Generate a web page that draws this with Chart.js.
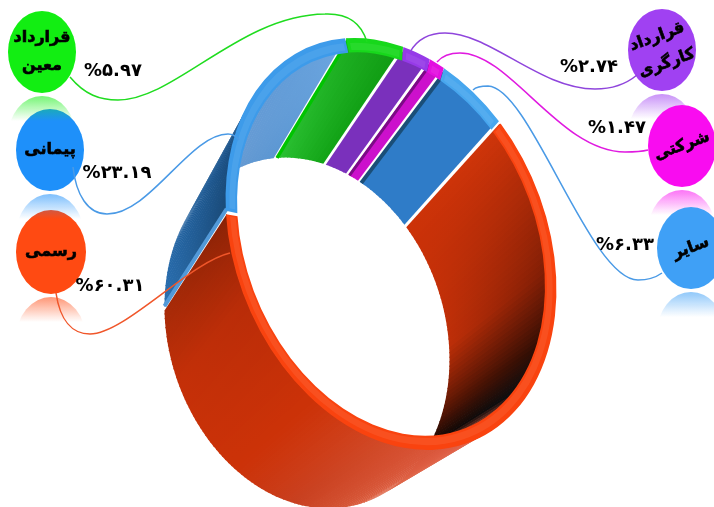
<!DOCTYPE html>
<html>
<head>
<meta charset="utf-8">
<style>
  html, body { margin: 0; padding: 0; background: #fff; }
  canvas { display: block; }
</style>
</head>
<body>
<canvas id="myChart" width="714" height="507"></canvas>
<script src="https://cdn.jsdelivr.net/npm/chart.js@4"></script>
<script>
// Data
const categories = ["رسمی", "پیمانی", "قرارداد معین", "قرارداد کارگری", "شرکتی", "سایر"];
const shares = [60.31, 23.19, 5.97, 2.74, 1.47, 6.33];
const rim_colors = ["#f9430f", "#3d9bea", "#17d81b", "#963ae8", "#e30fe0", "#47a6ee"];
const bubble_colors = ["#ff4a12", "#1e90fa", "#12ee12", "#a041f2", "#f90cf0", "#3fa0f6"];
const leader_colors = ["#f0562a", "#4a9ae6", "#1fdc1f", "#8f45dc", "#e01ae0", "#4a9ae6"];

// Ring geometry: near face, far face, perspective warp of the angles
const near_face = { x: 391, y: 244, ax: 163, ay: 18, bx: 22, by: 204 };
const far_face = { x: 307, y: 333, ax: 142, ay: 12, bx: 12, by: 175 };
const deg = Math.PI / 180;
const warp_k = 0.04;
const warp_center = 60 * deg;

// Wall shading per slice: [fraction along slice, color at near face, color at far face]
const wall_stops = [
  [
    [0, "#d0350a", "#cc3208"],
    [0.184, "#7a1c05", "#bc2e08"],
    [0.282, "#2a0c04", "#5a1604"],
    [0.344, "#0c1114", "#120603"],
    [0.388, "#d85a40", "#dd6040"],
    [0.495, "#e06048", "#dd6040"],
    [0.628, "#d24a28", "#c84020"],
    [0.739, "#cc3208", "#cc3208"],
    [0.894, "#b82c08", "#c43008"],
    [1, "#8a2206", "#a82a08"]
  ],
  [
    [0, "#1a4a78", "#2c72b4"],
    [0.42, "#1b5288", "#1f5f9e"],
    [0.47, "#3f6f9e", "#4a7aa8"],
    [0.656, "#5c98d6", "#6c9cd2"],
    [1, "#6ca6e0", "#5a96d2"]
  ],
  [
    [0, "#1cae20", "#2cc234"],
    [1, "#119c14", "#12a416"]
  ],
  [
    [0, "#7a30bc", "#7a30bc"],
    [1, "#7a30bc", "#7a30bc"]
  ],
  [
    [0, "#cc10cc", "#cc10cc"],
    [1, "#cc10cc", "#cc10cc"]
  ],
  [
    [0, "#2f7cc8", "#2f7cc8"],
    [1, "#2f7cc8", "#2f7cc8"]
  ]
];

// Edge strips on the ends of a slice: [slice index, 0 start / 1 end, color, width]
const wall_edges = [
  [1, 0, "#5299d8", 4],
  [2, 0, "#00c400", 3.5],
  [4, 0, "#7c0a86", 3],
  [5, 0, "#1a4e78", 4]
];

// The outer wall of this slice has to stay on top of its far side
const paint_backwards = [1];

// Labels around the ring
const bubbles = [
  { cx: 51, cy: 252, rx: 35, ry: 42, lines: ["رسمی"], tilt: 0 },
  { cx: 50, cy: 150, rx: 34, ry: 41, lines: ["پیمانی"], tilt: 0 },
  { cx: 42, cy: 52, rx: 34, ry: 41, lines: ["قرارداد", "معین"], tilt: 0 },
  { cx: 662, cy: 50, rx: 34, ry: 41, lines: ["قرارداد", "کارگری"], tilt: -20 },
  { cx: 682, cy: 146, rx: 34, ry: 41, lines: ["شرکتی"], tilt: -20 },
  { cx: 691, cy: 248, rx: 34, ry: 41, lines: ["سایر"], tilt: -20 }
];
const value_spots = [
  [110, 286], [117, 173], [113, 71], [589, 67], [617, 128], [625, 245]
];
const leaders = [
  [56, 293, [[60, 320, 72, 334, 90, 334], [125, 334, 190, 262, 230, 253]]],
  [73, 167, [[76, 195, 88, 214, 107, 214], [150, 214, 190, 134, 228, 134], [233, 134, 236, 136, 239, 140]]],
  [70, 77, [[85, 95, 100, 100, 118, 100], [175, 100, 240, 15, 325, 14], [350, 13, 362, 25, 367, 42]]],
  [637, 75, [[625, 85, 610, 89, 595, 89], [540, 89, 490, 33, 445, 33], [430, 33, 418, 38, 410, 52]]],
  [648, 150, [[640, 152, 632, 152, 625, 152], [560, 152, 510, 53, 460, 53], [450, 53, 442, 56, 437, 62]]],
  [662, 273, [[655, 278, 646, 280, 638, 280], [590, 280, 530, 87, 488, 86], [481, 86, 476, 87, 473, 90]]]
];

const fa_digits = "۰۱۲۳۴۵۶۷۸۹";
function toPersian(value) {
  return "%" + value.toFixed(2).replace(/\d/g, (d) => fa_digits[d]);
}

function warpAngle(angle) {
  const d = angle - warp_center;
  return angle + 2 * Math.atan((warp_k * Math.sin(d)) / (1 - warp_k * Math.cos(d)));
}

function facePoint(face, t) {
  return {
    x: face.x + face.ax * Math.cos(t) + face.bx * Math.sin(t),
    y: face.y + face.ay * Math.cos(t) + face.by * Math.sin(t)
  };
}

function mix(c1, c2, f) {
  const p = (c, i) => parseInt(c.substr(1 + i * 2, 2), 16);
  const out = [0, 1, 2].map((i) => Math.round(p(c1, i) + (p(c2, i) - p(c1, i)) * f));
  return `rgb(${out[0]},${out[1]},${out[2]})`;
}

function wallColors(index, fraction) {
  const stops = wall_stops[index];
  for (let i = 1; i < stops.length; i++) {
    if (fraction <= stops[i][0]) {
      const a = stops[i - 1];
      const b = stops[i];
      const f = (fraction - a[0]) / (b[0] - a[0]);
      return [mix(a[1], b[1], f), mix(a[2], b[2], f)];
    }
  }
  const last = stops[stops.length - 1];
  return [last[1], last[2]];
}

function drawWalls(ctx, arc, index) {
  const gap = 0.5 * deg;
  const start = arc.startAngle + gap;
  const end = arc.endAngle - gap;
  const steps = Math.max(4, Math.ceil((end - start) / (1.5 * deg)));
  const backwards = paint_backwards.includes(index);
  for (let n = 0; n < steps; n++) {
    const s = backwards ? steps - 1 - n : n;
    const t1 = start + ((end - start) * (backwards ? s - 0.3 : s)) / steps;
    const t2 = start + ((end - start) * (backwards ? s + 1 : s + 1.3)) / steps;
    const t_start = Math.max(t1, start);
    const t_end = Math.min(t2, end);
    const n1 = facePoint(near_face, t_start);
    const n2 = facePoint(near_face, t_end);
    const f1 = facePoint(far_face, t_start);
    const f2 = facePoint(far_face, t_end);
    const colors = wallColors(index, (s + 0.5) / steps);
    const grad = ctx.createLinearGradient(n1.x, n1.y, f1.x, f1.y);
    grad.addColorStop(0, colors[0]);
    grad.addColorStop(1, colors[1]);
    ctx.fillStyle = grad;
    ctx.beginPath();
    ctx.moveTo(n1.x, n1.y);
    ctx.lineTo(n2.x, n2.y);
    ctx.lineTo(f2.x, f2.y);
    ctx.lineTo(f1.x, f1.y);
    ctx.closePath();
    ctx.fill();
  }
  wall_edges
    .filter((edge) => edge[0] === index)
    .forEach((edge) => {
      const t = (edge[1] === 0 ? start : end) + (edge[1] === 0 ? 0.4 : -0.4) * deg;
      const n = facePoint(near_face, t);
      const f = facePoint(far_face, t);
      ctx.strokeStyle = edge[2];
      ctx.lineWidth = edge[3];
      ctx.beginPath();
      ctx.moveTo(n.x, n.y);
      ctx.lineTo(f.x, f.y);
      ctx.stroke();
    });
}

function drawBubble(ctx, bubble, index) {
  const color = bubble_colors[index];
  const bottom = bubble.cy + bubble.ry;

  // Faded mirror image under the bubble
  ctx.save();
  ctx.beginPath();
  ctx.rect(bubble.cx - bubble.rx - 2, bottom + 2, bubble.rx * 2 + 4, 28);
  ctx.clip();
  const fade = ctx.createLinearGradient(0, bottom + 2, 0, bottom + 28);
  fade.addColorStop(0, color + "99");
  fade.addColorStop(1, color + "00");
  ctx.fillStyle = fade;
  ctx.beginPath();
  ctx.ellipse(bubble.cx, bottom + 3 + bubble.ry, bubble.rx, bubble.ry, 0, 0, Math.PI * 2);
  ctx.fill();
  ctx.restore();

  ctx.fillStyle = color;
  ctx.beginPath();
  ctx.ellipse(bubble.cx, bubble.cy, bubble.rx, bubble.ry, 0, 0, Math.PI * 2);
  ctx.fill();
}

function drawBubbleText(ctx, bubble) {
  ctx.save();
  ctx.translate(bubble.cx, bubble.cy);
  ctx.rotate(bubble.tilt * deg);
  ctx.fillStyle = "#000";
  ctx.strokeStyle = "#000";
  ctx.lineWidth = 0.6;
  ctx.font = "bold 16px 'DejaVu Sans'";
  ctx.textAlign = "center";
  ctx.textBaseline = "middle";
  ctx.direction = "rtl";
  bubble.lines.forEach((line, i) => {
    const y = (i - (bubble.lines.length - 1) / 2) * 28;
    ctx.fillText(line, 0, y);
    ctx.strokeText(line, 0, y);
  });
  ctx.restore();
}

const ring_plugin = {
  id: "ring",
  afterDatasetsUpdate(chart) {
    chart.getDatasetMeta(0).data.forEach((arc) => {
      arc.startAngle = warpAngle(arc.startAngle);
      arc.endAngle = warpAngle(arc.endAngle);
      arc.circumference = arc.endAngle - arc.startAngle;
    });
  },
  beforeDatasetsDraw(chart) {
    const ctx = chart.ctx;
    const arcs = chart.getDatasetMeta(0).data;
    arcs.forEach((arc, i) => drawWalls(ctx, arc, i));

    // Library arcs land on the near face
    const { x, y, outerRadius: r } = arcs[0];
    const f = near_face;
    ctx.save();
    ctx.transform(
      f.ax / r, f.ay / r, f.bx / r, f.by / r,
      f.x - (f.ax * x + f.bx * y) / r,
      f.y - (f.ay * x + f.by * y) / r
    );
  },
  afterDatasetsDraw(chart) {
    const ctx = chart.ctx;
    // Bevel highlight on the rim
    chart.getDatasetMeta(0).data.forEach((arc) => {
      const mid = (arc.innerRadius + arc.outerRadius) / 2;
      const width = arc.outerRadius - arc.innerRadius;
      const pad = 1.2 * deg;
      ctx.lineCap = "butt";
      ctx.strokeStyle = "rgba(255,255,255,0.07)";
      ctx.lineWidth = width * 0.5;
      ctx.beginPath();
      ctx.arc(arc.x, arc.y, mid, arc.startAngle + pad, arc.endAngle - pad);
      ctx.stroke();
    });
    ctx.restore();
  },
  afterDraw(chart) {
    const ctx = chart.ctx;
    bubbles.forEach((bubble, i) => drawBubble(ctx, bubble, i));
    bubbles.forEach((bubble) => drawBubbleText(ctx, bubble));

    leaders.forEach((leader, i) => {
      ctx.strokeStyle = leader_colors[i];
      ctx.lineWidth = 1.5;
      ctx.beginPath();
      ctx.moveTo(leader[0], leader[1]);
      leader[2].forEach((c) => ctx.bezierCurveTo(c[0], c[1], c[2], c[3], c[4], c[5]));
      ctx.stroke();
    });

    ctx.fillStyle = "#000";
    ctx.font = "bold 18px 'DejaVu Sans'";
    ctx.textAlign = "center";
    ctx.textBaseline = "middle";
    ctx.direction = "ltr";
    shares.forEach((share, i) => {
      ctx.fillText(toPersian(share), value_spots[i][0], value_spots[i][1]);
    });
  }
};

// Chart object
const ctx = document.getElementById("myChart").getContext("2d");
const myChart = new Chart(ctx, {
  type: "doughnut",
  data: {
    labels: categories,
    datasets: [
      {
        data: shares,
        backgroundColor: rim_colors,
        borderWidth: 0,
        spacing: 3,
        clip: false
      }
    ]
  },
  options: {
    responsive: false,
    animation: false,
    rotation: 53,
    cutout: "93%",
    events: [],
    layout: { padding: 0 },
    plugins: {
      legend: { display: false },
      tooltip: { enabled: false }
    }
  },
  plugins: [ring_plugin]
});
</script>
</body>
</html>
